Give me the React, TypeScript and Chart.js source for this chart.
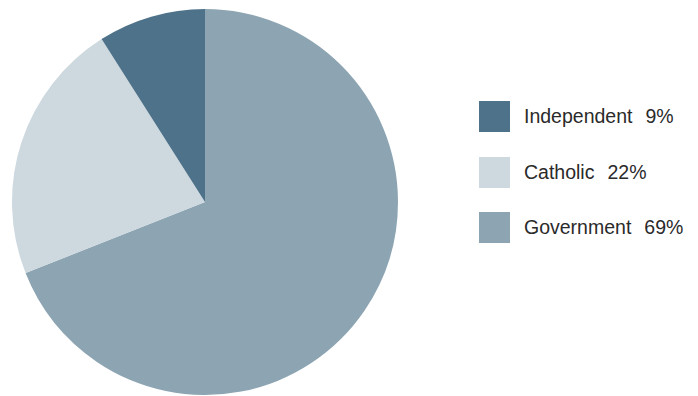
import React, { useEffect, useRef } from "react";
import { Chart, registerables } from "chart.js";

Chart.register(...registerables);

const categories = ["Government", "Catholic", "Independent"];
const values = [69, 22, 9];
const colors = ["#8da5b3", "#cdd8df", "#4e7289"];
const legendOrder = [2, 1, 0];

export default function App() {
  const ref = useRef<HTMLCanvasElement | null>(null);

  useEffect(() => {
    if (!ref.current) return;
    const chart = new Chart(ref.current, {
      type: "pie",
      data: {
        labels: categories,
        datasets: [
          {
            data: values,
            backgroundColor: colors,
            borderWidth: 0,
          },
        ],
      },
      options: {
        responsive: false,
        animation: false,
        layout: { padding: { top: 9, bottom: 1, left: 12, right: 12 } },
        plugins: {
          legend: { display: false },
          tooltip: { enabled: false },
        },
      },
    });
    return () => chart.destroy();
  }, []);

  return (
    <div
      style={{
        position: "fixed",
        left: 0,
        top: 0,
        width: 698,
        height: 396,
        background: "#ffffff",
        overflow: "hidden",
      }}
    >
      <canvas
        ref={ref}
        width={410}
        height={396}
        style={{ position: "absolute", left: 0, top: 0, width: 410, height: 396 }}
      />
      {legendOrder.map((idx, i) => (
        <div
          key={categories[idx]}
          style={{
            position: "absolute",
            left: 479,
            top: 101 + i * 55.5,
            height: 31,
            display: "flex",
            alignItems: "center",
            whiteSpace: "pre",
            fontFamily: "'Liberation Sans', Arial, sans-serif",
            fontWeight: 400,
            fontSize: 19.5,
            color: "#2a2a2a",
          }}
        >
          <div style={{ width: 31, height: 31, background: colors[idx], marginRight: 14 }} />
          <span>{categories[idx]}</span>
          <span style={{ marginLeft: 13 }}>{`${values[idx]}%`}</span>
        </div>
      ))}
    </div>
  );
}
